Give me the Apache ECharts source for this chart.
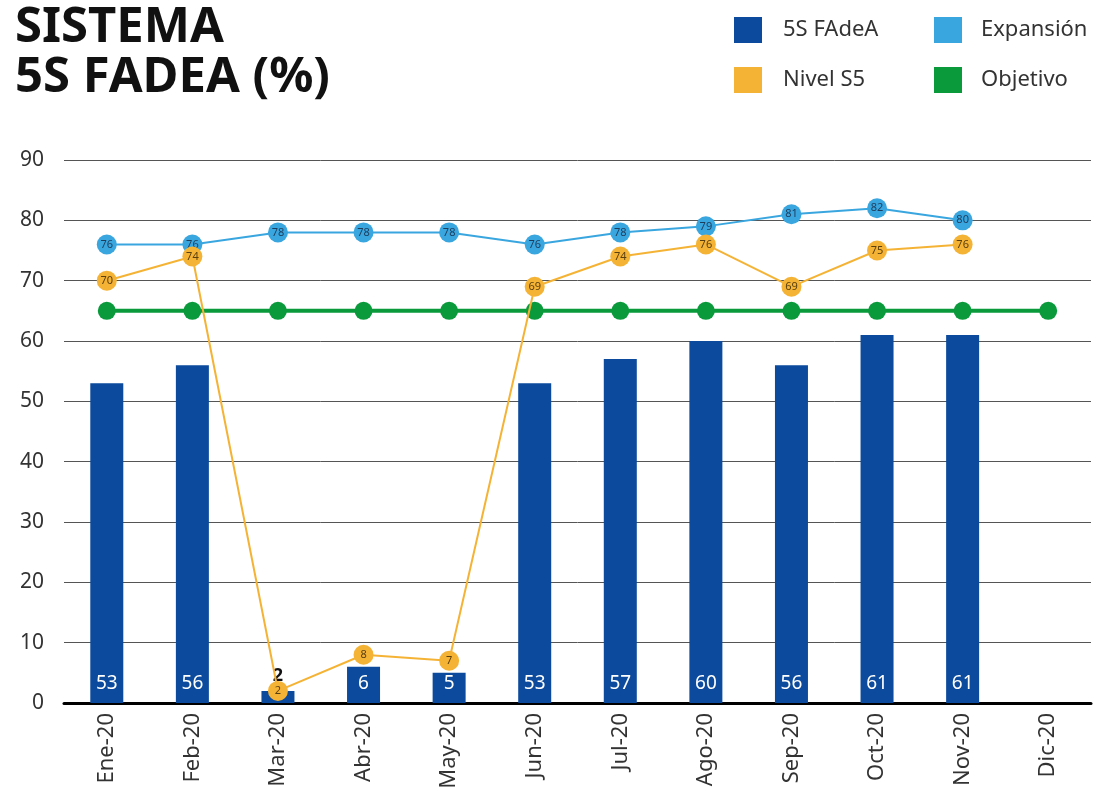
<!DOCTYPE html>
<html>
<head>
<meta charset="utf-8">
<script src="https://cdn.jsdelivr.net/npm/echarts@6/dist/echarts.min.js"></script>
<style>html,body{margin:0;padding:0;background:#fff}#c{width:1097px;height:796px}</style>
</head>
<body>
<div id="c"></div>
<script>
const categories = ['Ene-20','Feb-20','Mar-20','Abr-20','May-20','Jun-20','Jul-20','Ago-20','Sep-20','Oct-20','Nov-20','Dic-20'];
const fadea = [53,56,2,6,5,53,57,60,56,61,61,null];
const expansion = [76,76,78,78,78,76,78,79,81,82,80,null];
const nivelS5 = [70,74,2,8,7,69,74,76,69,75,76,null];
const objetivo = [65,65,65,65,65,65,65,65,65,65,65,65];
const yTicks = [0,10,20,30,40,50,60,70,80,90];

const chart = echarts.init(document.getElementById('c'));
const FONT = 'Noto Sans';
const barData = fadea.map((v,i) => {
  if (v !== null && v < 4) {
    return {value: v, label: {position: 'top', color: '#111', fontWeight: 'bold', fontSize: 18, distance: 6}};
  }
  return v;
});
chart.setOption({
  animation: false,
  textStyle: {fontFamily: FONT},
  title: {
    text: 'SISTEMA\n5S FADEA (%)',
    left: 10, top: -2,
    textStyle: {fontSize: 49, fontWeight: 'bold', color: '#111', lineHeight: 50, fontFamily: FONT}
  },
  legend: [
    {data: ['5S FAdeA','Nivel S5'], orient: 'vertical', left: 729, top: 12, itemWidth: 28, itemHeight: 26, itemGap: 24,
     icon: 'rect', textStyle: {fontSize: 22, color: '#333', padding: [0,0,0,16]}},
    {data: ['Expansión','Objetivo'], orient: 'vertical', left: 929, top: 12, itemWidth: 28, itemHeight: 26, itemGap: 24,
     icon: 'rect', textStyle: {fontSize: 22, color: '#333', padding: [0,0,0,14]}}
  ],
  grid: {left: 64, right: 6, top: 160, bottom: 93, containLabel: false},
  xAxis: {
    type: 'category', data: categories,
    axisLine: {lineStyle: {color: '#000', width: 3}},
    axisTick: {show: false},
    axisLabel: {rotate: 90, fontSize: 22, color: '#333', margin: 10}
  },
  yAxis: {
    type: 'value', min: 0, max: 90, interval: 10,
    axisLine: {show: false}, axisTick: {show: false},
    axisLabel: {fontSize: 21, color: '#333', margin: 20, formatter: v => yTicks.includes(v) ? String(v) : ''},
    splitLine: {lineStyle: {color: '#555', width: 1}}
  },
  series: [
    {name: '5S FAdeA', type: 'bar', data: barData, barWidth: 33, itemStyle: {color: '#0b4a9c'},
     label: {show: true, position: 'insideBottom', distance: 10, color: '#fff', fontSize: 19}},
    {name: 'Objetivo', type: 'line', data: objetivo, symbol: 'circle', symbolSize: 18,
     lineStyle: {color: '#0a9a3c', width: 4}, itemStyle: {color: '#0a9a3c'}, z: 3},
    {name: 'Expansión', type: 'line', data: expansion, symbol: 'circle', symbolSize: 20,
     lineStyle: {color: '#3aa6df', width: 2}, itemStyle: {color: '#3aa6df'}, z: 4,
     label: {show: true, position: 'inside', fontSize: 11, color: '#1d3d5c'}},
    {name: 'Nivel S5', type: 'line', data: nivelS5, symbol: 'circle', symbolSize: 20,
     lineStyle: {color: '#f5b335', width: 2}, itemStyle: {color: '#f5b335'}, z: 5,
     label: {show: true, position: 'inside', fontSize: 11, color: '#5a4010'}}
  ]
});
</script>
</body>
</html>
